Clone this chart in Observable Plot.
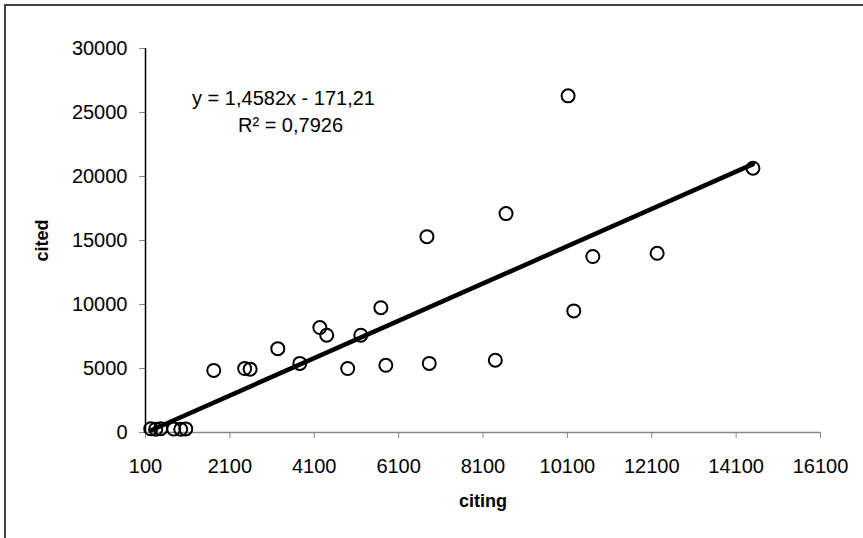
<!DOCTYPE html>
<html>
<head>
<meta charset="utf-8">
<script src="https://cdn.jsdelivr.net/npm/d3@7"></script>
<script src="https://cdn.jsdelivr.net/npm/@observablehq/plot@0.6"></script>
<style>
  html, body { margin: 0; padding: 0; background: #fff; }
  #wrap { position: relative; width: 863px; height: 538px; overflow: hidden; }
  #border { position: absolute; left: 4px; top: 4px; width: 900px; height: 600px;
            border-left: 2px solid #444; border-top: 2px solid #444; box-sizing: border-box; pointer-events: none; }
  svg { font-family: "Liberation Sans", Arial, sans-serif; }
</style>
</head>
<body>
<div id="wrap"><div id="border"></div></div>
<script>
// Data
const citing = [223, 342, 460, 769, 935, 1054, 1718, 2450, 2580, 3236, 3758, 4233, 4395, 4893, 5204, 5679, 5797, 6771, 6826, 8392, 8646, 10117, 10252, 10703, 12228, 14499];
const cited  = [290, 260, 300, 270, 250, 280, 4850, 5000, 4950, 6550, 5400, 8200, 7600, 5000, 7600, 9750, 5250, 15300, 5400, 5650, 17100, 26300, 9500, 13750, 14000, 20650];
const xTicks = [100, 2100, 4100, 6100, 8100, 10100, 12100, 14100, 16100];
const yTicks = [0, 5000, 10000, 15000, 20000, 25000, 30000];
const slope = 1.4582;
const intercept = -171.21;
const equationText = "y = 1,4582x - 171,21";
const r2Text = "R² = 0,7926";

const points = citing.map((x, i) => ({x, y: cited[i]}));
const xMin = d3.min(citing), xMax = d3.max(citing);
const trend = [xMin, xMax].map(x => ({x, y: slope * x + intercept}));

const chart = Plot.plot({
  width: 863,
  height: 538,
  marginLeft: 145,
  marginRight: 43,
  marginTop: 48,
  marginBottom: 106,
  style: {fontSize: "20px", fontFamily: "Liberation Sans, Arial, sans-serif", background: "transparent", color: "#000"},
  x: {domain: [100, 16100]},
  y: {domain: [0, 30000]},
  marks: [
    Plot.axisX({ticks: xTicks, tickSize: 6, tickPadding: 20, stroke: "#888", fill: "#000",
                tickFormat: d => String(d), label: "citing", labelAnchor: "center", labelArrow: "none",
                labelOffset: 74}),
    Plot.axisY({ticks: yTicks, tickSize: 6, tickPadding: 12, stroke: "#888", fill: "#000",
                tickFormat: d => String(d), label: "cited", labelAnchor: "center", labelArrow: "none",
                labelOffset: 110}),
    Plot.ruleY([0], {stroke: "#888", strokeWidth: 1.5}),
    Plot.ruleX([100], {stroke: "#000", strokeWidth: 1.5}),
    Plot.line(trend, {x: "x", y: "y", stroke: "#000", strokeWidth: 4.5}),
    Plot.dot(points, {x: "x", y: "y", r: 6.5, stroke: "#000", strokeWidth: 2, fill: "none"}),
    Plot.text([equationText], {frameAnchor: "top-left", dx: 138, dy: 42, textAnchor: "middle", fontSize: 20, fill: "#000"}),
    Plot.text([r2Text], {frameAnchor: "top-left", dx: 145, dy: 69, textAnchor: "middle", fontSize: 20, fill: "#000"})
  ]
});
// axis titles: bold, 18px
chart.querySelectorAll("[aria-label='x-axis label'] text, [aria-label='y-axis label'] text").forEach(t => {
  t.setAttribute("font-weight", "bold");
  t.setAttribute("font-size", "18");
});
document.getElementById("wrap").prepend(chart);
</script>
</body>
</html>
